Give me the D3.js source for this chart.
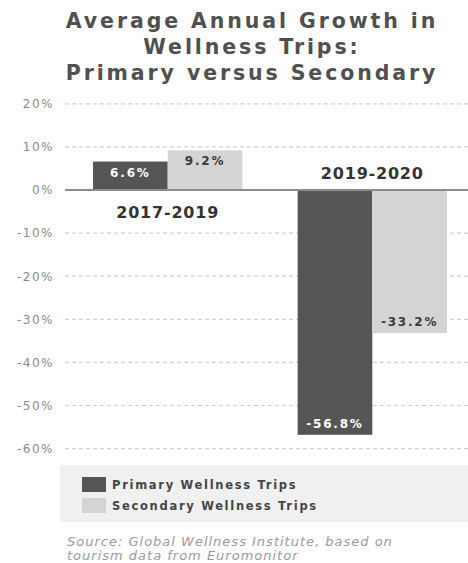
<!DOCTYPE html>
<html>
<head>
<meta charset="utf-8">
<script src="https://cdn.jsdelivr.net/npm/d3@7"></script>
<style>
  html, body { margin: 0; padding: 0; background: #fff; }
  svg { display: block; }
</style>
</head>
<body>
<svg id="chart" width="468" height="563"></svg>
<script>
// ---- data ----
const categories = ["2017-2019", "2019-2020"];
const seriesNames = ["Primary Wellness Trips", "Secondary Wellness Trips"];
const primaryValues = [6.6, -56.8];
const secondaryValues = [9.2, -33.2];
const tickValues = [20, 10, 0, -10, -20, -30, -40, -50, -60];
const titleLines = ["Average Annual Growth in", "Wellness Trips:", "Primary versus Secondary"];
const sourceLines = ["Source: Global Wellness Institute, based on", "tourism data from Euromonitor"];

// ---- layout ----
const svg = d3.select("#chart");
const W = 468;
const colors = ["#555555", "#d4d4d4"];
const labelColors = ["#ffffff", "#3a3a3a"];

const y = d3.scaleLinear().domain([-60, 20]).range([448.6, 103.8]);
const x0 = d3.scaleBand().domain(categories).range([65, 475]).paddingInner(0.27).paddingOuter(0.137);
const x1 = d3.scaleBand().domain(seriesNames).range([0, x0.bandwidth()]).padding(0);

// title
svg.append("g").selectAll("text").data(titleLines).join("text")
  .attr("x", 252).attr("y", (d, i) => 28 + i * 26)
  .attr("text-anchor", "middle")
  .attr("font-family", "DejaVu Sans, sans-serif")
  .attr("font-weight", "bold")
  .attr("font-size", 20.5)
  .attr("letter-spacing", 2.9)
  .attr("fill", "#505050")
  .text(d => d);

// gridlines
svg.append("g").selectAll("line").data(tickValues.filter(d => d !== 0)).join("line")
  .attr("x1", 65).attr("x2", W)
  .attr("y1", d => y(d)).attr("y2", d => y(d))
  .attr("stroke", "#cfcfcf").attr("stroke-width", 1.2)
  .attr("stroke-dasharray", "4,3");

// y axis labels
const yAxis = d3.axisLeft(y).tickValues(tickValues).tickSize(0).tickPadding(0)
  .tickFormat(d => d + "%");
const gy = svg.append("g").attr("transform", "translate(54,0)").call(yAxis);
gy.select(".domain").remove();
gy.selectAll("text")
  .attr("font-family", "DejaVu Sans, sans-serif")
  .attr("font-size", 12)
  .attr("letter-spacing", 1.5)
  .attr("fill", "#8a8a8a");

// bars
const rows = categories.map((c, i) => ({ cat: c, vals: [primaryValues[i], secondaryValues[i]] }));
const groups = svg.append("g").selectAll("g").data(rows).join("g")
  .attr("transform", d => `translate(${x0(d.cat)},0)`);

groups.selectAll("rect").data(d => d.vals.map((v, j) => ({ v, j }))).join("rect")
  .attr("x", d => x1(seriesNames[d.j]))
  .attr("width", x1.bandwidth())
  .attr("y", d => y(Math.max(0, d.v)))
  .attr("height", d => Math.abs(y(d.v) - y(0)))
  .attr("fill", d => colors[d.j]);

groups.selectAll("text.val").data(d => d.vals.map((v, j) => ({ v, j }))).join("text")
  .attr("class", "val")
  .attr("x", d => x1(seriesNames[d.j]) + x1.bandwidth() / 2)
  .attr("y", d => d.v >= 0 ? y(d.v) + 15 : y(d.v) - 7)
  .attr("text-anchor", "middle")
  .attr("font-family", "DejaVu Sans, sans-serif")
  .attr("font-weight", "bold")
  .attr("font-size", 12)
  .attr("letter-spacing", 1.8)
  .attr("fill", d => labelColors[d.j])
  .text(d => d.v.toFixed(1) + "%");

// zero line
svg.append("line")
  .attr("x1", 65).attr("x2", W)
  .attr("y1", y(0)).attr("y2", y(0))
  .attr("stroke", "#8c8c8c").attr("stroke-width", 2);

// category labels
svg.append("g").selectAll("text").data(rows).join("text")
  .attr("x", d => x0(d.cat) + x0.bandwidth() / 2)
  .attr("y", d => d.vals[0] >= 0 ? y(0) + 28 : y(0) - 11)
  .attr("text-anchor", "middle")
  .attr("font-family", "DejaVu Sans, sans-serif")
  .attr("font-weight", "bold")
  .attr("font-size", 16)
  .attr("letter-spacing", 0.8)
  .attr("fill", "#333")
  .text(d => d.cat);

// legend
const lg = svg.append("g");
lg.append("rect").attr("x", 60).attr("y", 465).attr("width", W - 60).attr("height", 57).attr("fill", "#f0f0f0");
const li = lg.selectAll("g").data(seriesNames).join("g")
  .attr("transform", (d, i) => `translate(82,${477 + i * 21})`);
li.append("rect").attr("width", 24).attr("height", 15).attr("fill", (d, i) => colors[i]);
li.append("text").attr("x", 30).attr("y", 11.5)
  .attr("font-family", "DejaVu Sans, sans-serif")
  .attr("font-weight", "bold")
  .attr("font-size", 11.5)
  .attr("letter-spacing", 1.7)
  .attr("fill", "#444")
  .text(d => d);

// source
svg.append("g").selectAll("text").data(sourceLines).join("text")
  .attr("x", 67).attr("y", (d, i) => 546 + i * 14)
  .attr("font-family", "DejaVu Sans, sans-serif")
  .attr("font-style", "italic")
  .attr("font-size", 13)
  .attr("letter-spacing", 1.0)
  .attr("fill", "#9a9a9a")
  .text(d => d);
</script>
</body>
</html>
